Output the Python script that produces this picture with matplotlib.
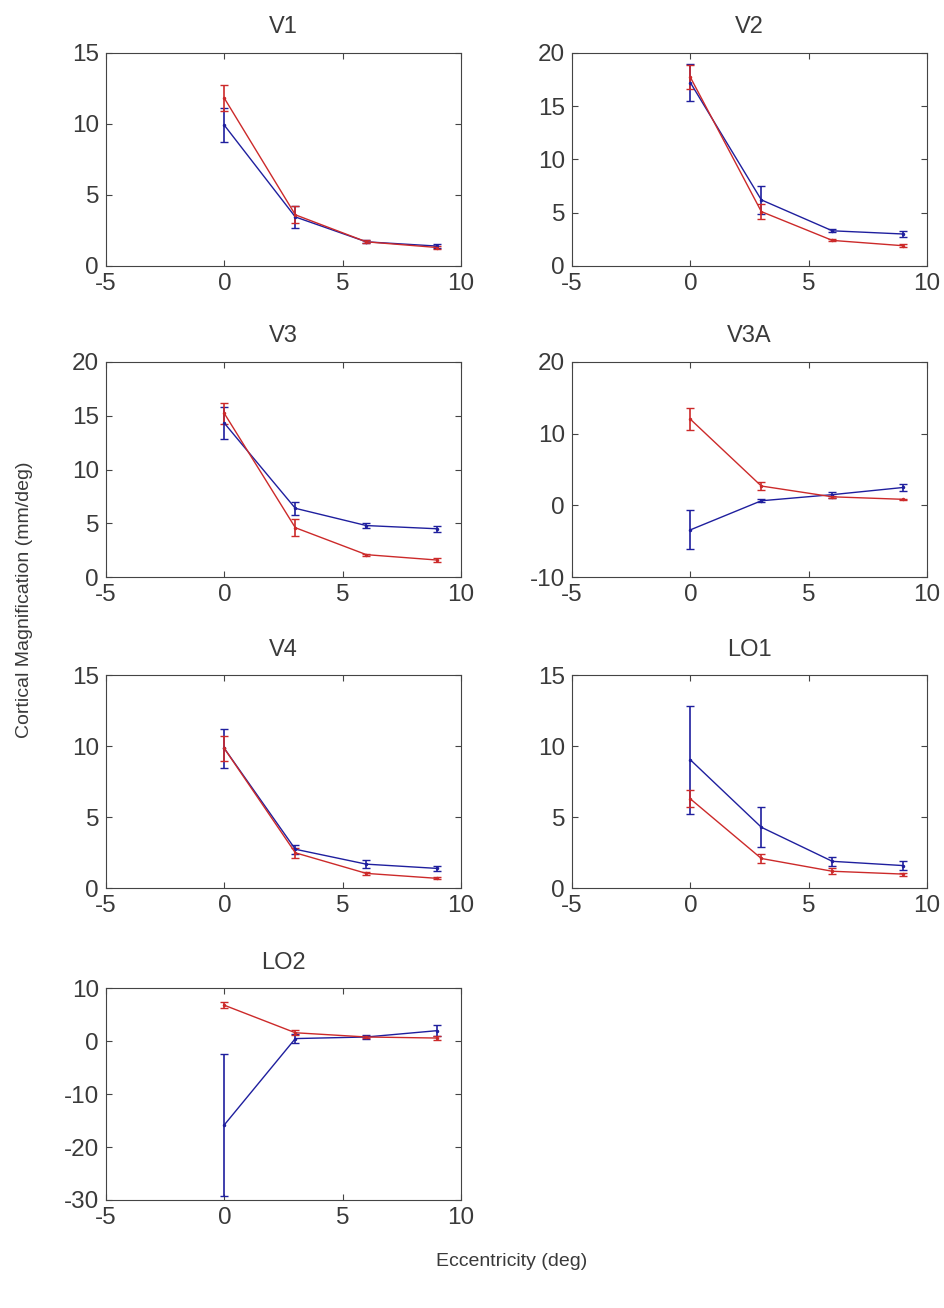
import numpy as np
import matplotlib.pyplot as plt

plt.rcParams['font.family'] = ['Liberation Sans', 'DejaVu Sans']
plt.rcParams['axes.unicode_minus'] = False

ecc = [0, 3, 6, 9]
areas = ["V1", "V2", "V3", "V3A", "V4", "LO1", "LO2"]

# blue series: mean and error per area
blue_mean = {
    "V1": [9.9, 3.45, 1.7, 1.4],
    "V2": [17.2, 6.2, 3.3, 3.0],
    "V3": [14.3, 6.4, 4.8, 4.5],
    "V3A": [-3.4, 0.65, 1.5, 2.5],
    "V4": [9.85, 2.75, 1.7, 1.4],
    "LO1": [9.05, 4.3, 1.9, 1.6],
    "LO2": [-15.8, 0.5, 0.8, 2.0],
}
blue_err = {
    "V1": [1.2, 0.75, 0.1, 0.15],
    "V2": [1.75, 1.3, 0.15, 0.3],
    "V3": [1.5, 0.6, 0.25, 0.3],
    "V3A": [2.7, 0.2, 0.4, 0.45],
    "V4": [1.4, 0.3, 0.3, 0.2],
    "LO1": [3.8, 1.4, 0.3, 0.3],
    "LO2": [13.4, 0.8, 0.3, 1.1],
}
# red series
red_mean = {
    "V1": [11.8, 3.6, 1.7, 1.3],
    "V2": [17.7, 5.1, 2.4, 1.9],
    "V3": [15.2, 4.6, 2.1, 1.6],
    "V3A": [12.0, 2.7, 1.2, 0.85],
    "V4": [9.85, 2.5, 1.05, 0.7],
    "LO1": [6.3, 2.1, 1.2, 1.0],
    "LO2": [6.8, 1.6, 0.8, 0.6],
}
red_err = {
    "V1": [0.9, 0.6, 0.1, 0.1],
    "V2": [1.1, 0.7, 0.1, 0.15],
    "V3": [1.0, 0.8, 0.1, 0.2],
    "V3A": [1.5, 0.5, 0.15, 0.1],
    "V4": [0.85, 0.35, 0.1, 0.08],
    "LO1": [0.6, 0.3, 0.2, 0.1],
    "LO2": [0.6, 0.5, 0.2, 0.3],
}

ylims = {
    "V1": (0, 15), "V2": (0, 20), "V3": (0, 20), "V3A": (-10, 20),
    "V4": (0, 15), "LO1": (0, 15), "LO2": (-30, 10),
}
yticks = {
    "V1": [0, 5, 10, 15], "V2": [0, 5, 10, 15, 20], "V3": [0, 5, 10, 15, 20],
    "V3A": [-10, 0, 10, 20], "V4": [0, 5, 10, 15], "LO1": [0, 5, 10, 15],
    "LO2": [-30, -20, -10, 0, 10],
}

W, H = 944, 1308
fig = plt.figure(figsize=(W / 100, H / 100), dpi=100)

col_left = [106, 572]
col_w = 355
rows = [(52.7, 266), (361.7, 577.3), (675.3, 888.3), (988.3, 1200)]

blue = '#1f1f9e'
red = '#cc2a2a'
txt = '#3a3a3a'

for i, name in enumerate(areas):
    r, c = divmod(i, 2)
    top, bot = rows[r]
    ax = fig.add_axes([col_left[c] / W, 1 - bot / H, col_w / W, (bot - top) / H])
    ax.errorbar(ecc, blue_mean[name], yerr=blue_err[name], color=blue, lw=1,
                capsize=3, elinewidth=1.2, marker='.', ms=3)
    ax.errorbar(ecc, red_mean[name], yerr=red_err[name], color=red, lw=1,
                capsize=3, elinewidth=1.2, marker='.', ms=3)
    ax.set_xlim(-5, 10)
    ax.set_xticks([-5, 0, 5, 10])
    ax.set_ylim(*ylims[name])
    ax.set_yticks(yticks[name])
    ax.tick_params(direction='in', top=True, right=True, length=4,
                   labelsize=17.5, labelcolor=txt, color='#444444')
    ax.tick_params(axis='x', pad=5)
    ax.tick_params(axis='y', pad=5)
    for s in ax.spines.values():
        s.set_color('#444444')
    ax.set_title(name, fontsize=17, color=txt, pad=14)

fig.text(25 / W, 1 - 600 / H, "Cortical Magnification (mm/deg)", rotation=90,
         ha='center', va='center', fontsize=14, color=txt)
fig.text(512 / W, 1 - 1262 / H, "Eccentricity (deg)", ha='center', va='center',
         fontsize=14, color=txt)

fig.savefig("out.png", dpi=100)
